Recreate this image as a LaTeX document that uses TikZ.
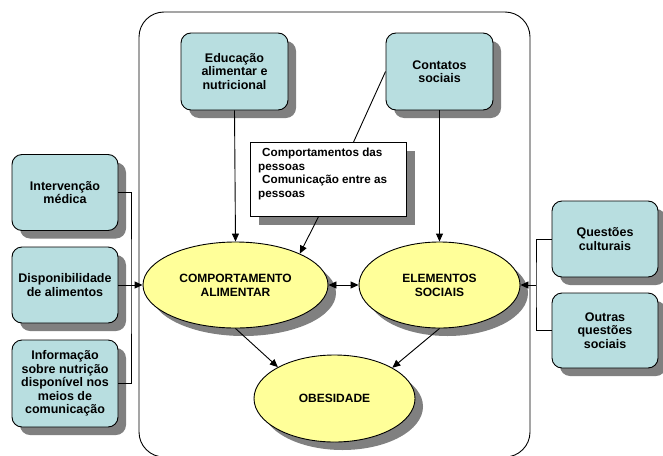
\documentclass[tikz,border=0pt]{standalone}
\usepackage{fontspec}
\setmainfont{Liberation Sans}
\usetikzlibrary{shapes.geometric,shadows,arrows.meta,calc}
\definecolor{tealfill}{HTML}{B8DEE0}
\definecolor{yellowfill}{HTML}{FFFF99}
\definecolor{shgray}{HTML}{808080}
\tikzset{
  sh/.style={general shadow={fill=shgray, shadow xshift=8pt, shadow yshift=-8pt}},
  tealbox/.style={draw, line width=0.9pt, fill=tealfill, rounded corners=10pt,
    minimum width=106pt, minimum height=76pt, align=center, inner sep=0pt,
    font=\fontsize{12.5}{13.5}\selectfont\bfseries, sh},
  yell/.style={ellipse, draw, line width=0.9pt, fill=yellowfill, inner sep=0pt,
    align=center, font=\fontsize{12}{14}\selectfont\bfseries, sh},
  conn/.style={line width=0.9pt},
  arr/.style={line width=0.9pt, -{Triangle[length=8pt,width=7pt]}},
  darr/.style={line width=0.9pt, {Triangle[length=8pt,width=7pt]}-{Triangle[length=8pt,width=7pt]}}
}
\begin{document}
\begin{tikzpicture}[x=1pt,y=-1pt]
\useasboundingbox (0,0) rectangle (663,455);
% frame
\draw[line width=0.9pt, rounded corners=25pt] (139,12) rectangle (530,457);
% left boxes
\node[tealbox] (b1) at (65,192.5) {Intervenção\\médica};
\node[tealbox] (b2) at (65,285) {Disponibilidade\\de alimentos};
\node[tealbox, minimum height=87pt] (b3) at (65,383.5) {Informação\\sobre nutrição\\disponível nos\\meios de\\comunicação};
% top boxes
\node[tealbox, minimum width=107pt, minimum height=77pt] (ed) at (234.5,71.5) {Educação\\alimentar e\\nutricional};
\node[tealbox, minimum width=107pt, minimum height=77pt] (ct) at (439.5,71.5) {Contatos\\sociais};
% right boxes
\node[tealbox] (qc) at (605,239) {Questões\\culturais};
\node[tealbox, minimum height=75pt] (oq) at (605,330.5) {Outras\\questões\\sociais};
% text box
\node[draw, line width=0.9pt, fill=white, minimum width=156pt, minimum height=74pt,
  inner sep=0pt, general shadow={fill=shgray, shadow xshift=9pt, shadow yshift=-9pt},
  anchor=north west] (tb) at (250,142) {};
\node[anchor=north west, align=left, inner sep=0pt, font=\fontsize{11.7}{13.5}\selectfont\bfseries] (tbt) at (258,148)
  {\hspace{4pt}Comportamentos das\\pessoas\\\hspace{4pt}Comunicação entre as\\pessoas};
% ellipses
\node[yell, minimum width=185pt, minimum height=86pt] (ca) at (235.5,285) {COMPORTAMENTO\\ALIMENTAR};
\node[yell, minimum width=161pt, minimum height=86pt] (es) at (439.5,285) {ELEMENTOS\\SOCIAIS};
\node[yell, minimum width=161pt, minimum height=87pt] (ob) at (334.5,398.5) {OBESIDADE};
% junction coordinates
\coordinate (jl) at (131,285);
\coordinate (jr) at (536,285);
% connectors left
\draw[conn] (b1.east) -| (jl) |- (b3.east);
\draw[arr] (b2.east) -- (ca.west);
% connectors right
\draw[conn] (qc.west) -| (jr) |- (oq.west);
\draw[arr] (jr) -- (es.east);
% top
\draw[arr] (ed.south) -- (ca.north);
\draw[arr] (ct.south) -- (es.north);
\draw[conn] (ct.west) -- ($(tb.north west)!0.66!(tb.north east)$);
\draw[arr] ($(tb.south west)!0.436!(tb.south east)$) -- (ca.26);
% middle
\draw[darr] (ca.east) -- (es.west);
\draw[arr] (ca.south) -- (ob.151);
\draw[arr] (es.south) -- (ob.28);
\end{tikzpicture}
\end{document}
